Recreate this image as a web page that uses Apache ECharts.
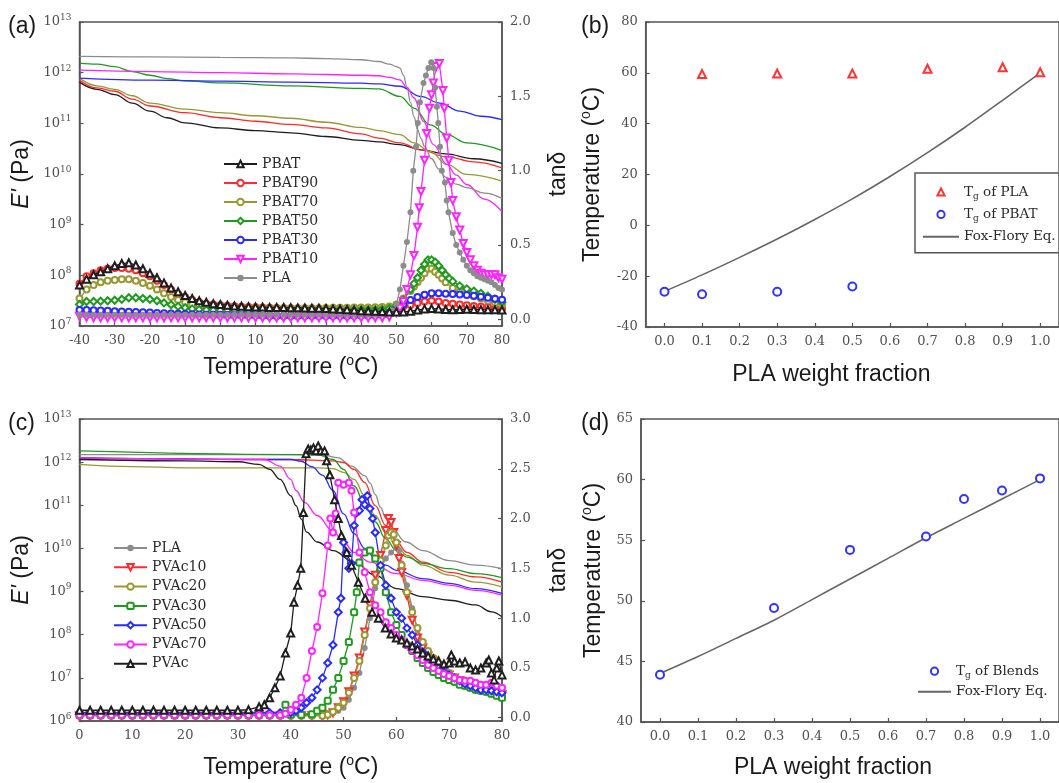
<!DOCTYPE html>
<html><head><meta charset="utf-8">
<script src="https://cdn.jsdelivr.net/npm/echarts@6/dist/echarts.min.js"></script>
<style>html,body{margin:0;padding:0;background:#fff}#c{width:1059px;height:783px}</style>
</head><body><div id="c"></div>
<script>
// ---------- Panel (a): PBAT/PLA blends ----------
const aNames = ['PBAT','PBAT90','PBAT70','PBAT50','PBAT30','PBAT10','PLA'];
// tan delta, [T (°C), tanδ]
const aTanPBAT = [[-40,.23],[-38,.27],[-36,.30],[-34,.32],[-32,.34],[-30,.36],[-28,.375],[-26,.38],[-24,.365],[-22,.34],[-20,.31],[-18,.28],[-16,.245],[-14,.21],[-12,.185],[-10,.16],[-8,.14],[-6,.125],[-4,.115],[-2,.105],[0,.1],[2,.095],[4,.09],[6,.088],[8,.085],[10,.083],[12,.082],[14,.08],[16,.08],[18,.079],[20,.078],[22,.077],[24,.076],[26,.075],[28,.074],[30,.073],[32,.07],[34,.068],[36,.065],[38,.062],[40,.058],[42,.056],[44,.054],[46,.052],[48,.05],[50,.05],[52,.05],[54,.055],[56,.062],[58,.07],[60,.072],[62,.07],[64,.066],[66,.064],[68,.066],[70,.068],[72,.066],[74,.065],[76,.064],[78,.064],[80,.063]];
const aTanPBAT90 = [[-40,.24],[-38,.29],[-36,.31],[-34,.33],[-32,.34],[-30,.345],[-28,.345],[-26,.34],[-24,.33],[-22,.31],[-20,.29],[-18,.26],[-16,.23],[-14,.2],[-12,.17],[-10,.15],[-8,.13],[-6,.115],[-4,.105],[-2,.1],[0,.095],[2,.092],[4,.088],[6,.085],[8,.083],[10,.081],[12,.08],[14,.078],[16,.076],[18,.075],[20,.074],[22,.073],[24,.072],[26,.072],[28,.072],[30,.072],[32,.072],[34,.072],[36,.072],[38,.073],[40,.074],[42,.074],[44,.075],[46,.076],[48,.078],[50,.082],[52,.088],[54,.097],[56,.11],[58,.12],[60,.125],[62,.12],[64,.11],[66,.105],[68,.1],[70,.095],[72,.09],[74,.087],[76,.083],[78,.078],[80,.072]];
const aTanPBAT70 = [[-40,.14],[-38,.2],[-36,.23],[-34,.25],[-32,.26],[-30,.265],[-28,.27],[-26,.27],[-24,.26],[-22,.245],[-20,.225],[-18,.2],[-16,.175],[-14,.15],[-12,.13],[-10,.115],[-8,.1],[-6,.09],[-4,.085],[-2,.082],[0,.08],[2,.078],[4,.077],[6,.076],[8,.075],[10,.075],[12,.074],[14,.073],[16,.072],[18,.072],[20,.072],[22,.073],[24,.074],[26,.075],[28,.075],[30,.076],[32,.077],[34,.078],[36,.078],[38,.079],[40,.08],[42,.08],[44,.081],[46,.082],[48,.086],[50,.1],[52,.14],[54,.19],[55,.22],[56,.25],[57,.28],[58,.31],[59,.34],[60,.34],[61,.32],[62,.3],[63,.275],[64,.25],[66,.21],[68,.185],[70,.17],[72,.155],[74,.14],[76,.125],[78,.112],[80,.1]];
const aTanPBAT50 = [[-40,.1],[-38,.12],[-36,.12],[-34,.122],[-32,.125],[-30,.128],[-28,.135],[-26,.145],[-24,.145],[-22,.14],[-20,.135],[-18,.125],[-16,.11],[-14,.098],[-12,.087],[-10,.078],[-8,.07],[-6,.066],[-4,.063],[-2,.061],[0,.06],[2,.059],[4,.058],[6,.058],[8,.058],[10,.058],[12,.058],[14,.058],[16,.059],[18,.06],[20,.06],[22,.061],[24,.061],[26,.062],[28,.062],[30,.062],[32,.062],[34,.062],[36,.063],[38,.063],[40,.064],[42,.064],[44,.065],[46,.067],[48,.073],[50,.09],[52,.13],[54,.2],[55,.24],[56,.28],[57,.33],[58,.37],[59,.4],[60,.4],[61,.385],[62,.36],[63,.33],[64,.3],[65,.275],[66,.255],[68,.225],[70,.205],[72,.19],[74,.175],[76,.155],[78,.135],[80,.115]];
const aTanPBAT30 = [[-40,.063],[-38,.062],[-36,.061],[-34,.06],[-32,.058],[-30,.055],[-28,.053],[-26,.051],[-24,.049],[-22,.047],[-20,.045],[-18,.043],[-16,.041],[-14,.039],[-12,.037],[-10,.036],[-8,.034],[-6,.032],[-4,.031],[-2,.03],[0,.03],[2,.029],[4,.028],[6,.027],[8,.026],[10,.025],[12,.024],[14,.023],[16,.023],[18,.022],[20,.022],[22,.022],[24,.022],[26,.022],[28,.022],[30,.022],[32,.022],[34,.023],[36,.023],[38,.024],[40,.025],[42,.026],[44,.028],[46,.032],[48,.042],[50,.068],[52,.1],[54,.13],[56,.15],[58,.165],[60,.175],[62,.175],[64,.172],[66,.17],[68,.167],[70,.163],[72,.158],[74,.152],[76,.145],[78,.138],[80,.132]];
const aTanPBAT10 = [[-40,.02],[-38,.013],[-36,.011],[-34,.01],[-32,.01],[-30,.01],[-28,.01],[-26,.01],[-24,.01],[-22,.01],[-20,.01],[-18,.01],[-16,.01],[-14,.01],[-12,.01],[-10,.01],[-8,.01],[-6,.01],[-4,.01],[-2,.01],[0,.01],[2,.01],[4,.01],[6,.01],[8,.01],[10,.01],[12,.01],[14,.01],[16,.01],[18,.01],[20,.01],[22,.01],[24,.01],[26,.01],[28,.01],[30,.01],[32,.01],[34,.01],[36,.01],[38,.01],[40,.01],[42,.01],[44,.01],[46,.01],[48,.015],[50,.045],[51,.075],[52,.12],[53,.2],[54,.3],[55,.43],[56,.62],[56.5,.75],[57,.86],[58,1.07],[58.6,1.25],[59.4,1.42],[60,1.51],[60.5,1.59],[61.3,1.70],[62.2,1.72],[63.2,1.54],[63.6,1.42],[64.3,1.22],[64.9,1.07],[65.5,.92],[66,.8],[67,.69],[68,.6],[69,.51],[70,.45],[71,.4],[72,.36],[73,.33],[74,.31],[75,.3],[76,.3],[77,.3],[78,.3],[79,.28],[80,.27]];
const aTanPLA = [[-40,.03],[-38,.03],[-36,.03],[-34,.03],[-32,.03],[-30,.03],[-28,.03],[-26,.03],[-24,.03],[-22,.03],[-20,.03],[-18,.03],[-16,.03],[-14,.03],[-12,.03],[-10,.03],[-8,.03],[-6,.03],[-4,.03],[-2,.03],[0,.03],[2,.03],[4,.03],[6,.03],[8,.03],[10,.03],[12,.03],[14,.03],[16,.03],[18,.03],[20,.03],[22,.03],[24,.03],[26,.03],[28,.03],[30,.03],[32,.03],[34,.03],[36,.03],[38,.03],[40,.03],[42,.03],[44,.03],[46,.032],[48,.04],[49,.06],[50,.1],[51,.2],[52,.36],[53,.52],[54,.72],[54.8,1.0],[55.6,1.16],[56.1,1.32],[56.7,1.46],[57.7,1.59],[58.4,1.64],[59.1,1.69],[59.9,1.73],[60.5,1.69],[61,1.56],[61.5,1.43],[61.9,1.32],[62.4,1.16],[62.9,1.0],[63.8,.92],[64.3,.8],[64.8,.72],[66,.58],[67,.5],[68,.45],[69,.4],[70,.36],[71,.33],[72,.31],[73,.29],[74,.28],[75,.27],[76,.26],[77,.25],[78,.23],[79,.21],[80,.2]];
// storage modulus E' (Pa), [T (°C), E']
const aEPBAT = [[-40,6.5e11],[-35,4.7e11],[-30,3.7e11],[-25,2.5e11],[-20,1.74e11],[-15,1.29e11],[-10,1.02e11],[0,8.1e10],[10,7.2e10],[20,6.5e10],[30,5.5e10],[40,4.6e10],[45,4.3e10],[51,3.8e10],[57,3.0e10],[64,2.5e10],[72,2.0e10],[80,1.62e10]];
const aEPBAT90 = [[-40,7.2e11],[-35,5.0e11],[-30,4.3e11],[-25,3.0e11],[-20,2.2e11],[-10,1.62e11],[0,1.29e11],[10,1.1e11],[20,9.5e10],[30,8.1e10],[40,6.2e10],[45,5.1e10],[51,4.1e10],[57,3.0e10],[64,2.2e10],[72,1.74e10],[80,1.32e10]];
const aEPBAT70 = [[-40,7.8e11],[-35,5.5e11],[-30,4.7e11],[-25,3.5e11],[-20,2.5e11],[-10,1.9e11],[0,1.62e11],[10,1.41e11],[20,1.26e11],[30,1.05e11],[40,8.3e10],[45,7.2e10],[51,6.0e10],[55,4.1e10],[59.6,2.8e10],[64.3,1.55e10],[70,9.8e9],[80,7.2e9]];
const aEPBAT50 = [[-40,1.55e12],[-35,1.48e12],[-30,1.32e12],[-25,1.05e12],[-20,8.9e11],[-15,7.6e11],[-10,6.9e11],[0,6.3e11],[20,5.5e11],[40,4.9e11],[45,4.8e11],[51,3.4e11],[55,2.0e11],[59.6,9.3e10],[64.3,6.0e10],[70,4.1e10],[80,2.9e10]];
const aEPBAT30 = [[-40,7.8e11],[-20,7.1e11],[0,6.8e11],[20,6.5e11],[40,6.2e11],[45,6.0e11],[51,5.4e11],[56.8,3.4e11],[62.4,2.5e11],[68,1.74e11],[74,1.38e11],[80,1.18e11]];
const aEPBAT10 = [[-40,1.12e12],[-20,1.05e12],[0,1.0e12],[20,9.5e11],[40,8.9e11],[45,8.7e11],[48,8.1e11],[51,7.2e11],[53,5.2e11],[55,3.2e11],[57.7,1.1e11],[60.5,3.8e10],[64.3,1.55e10],[67,9.5e9],[70,6.2e9],[75,3.2e9],[80,1.8e9]];
const aEPLA = [[-40,2.1e12],[-20,2.05e12],[0,2.0e12],[20,1.95e12],[30,1.9e12],[40,1.8e12],[45,1.66e12],[48,1.48e12],[50,1.32e12],[51,1.23e12],[52,8.9e11],[53,5.2e11],[54,2.6e11],[55,1.35e11],[56,7.6e10],[57,5.0e10],[58,3.5e10],[60,2.0e10],[62,1.26e10],[64,8.7e9],[67,6.3e9],[70,5.4e9],[75,4.2e9],[80,3.3e9]];

// ---------- Panel (c): PVAc/PLA blends ----------
const cNames = ['PLA','PVAc10','PVAc20','PVAc30','PVAc50','PVAc70','PVAc'];
const cTanPLA = [[0,.04],[2,.04],[4,.04],[6,.04],[8,.04],[10,.04],[12,.04],[14,.04],[16,.04],[18,.04],[20,.04],[22,.04],[24,.04],[26,.04],[28,.04],[30,.04],[32,.04],[34,.04],[36,.04],[38,.04],[40,.04],[42,.04],[44,.04],[46,.04],[48,.05],[49,.07],[50,.1],[51,.18],[52,.3],[53,.45],[54,.7],[55,1.0],[56,1.3],[57,1.5],[58,1.6],[59,1.66],[60,1.71],[60.5,1.68],[61,1.55],[62,1.33],[63,1.1],[64,.88],[65,.74],[66,.62],[67,.54],[68,.47],[69,.42],[70,.38],[71,.35],[72,.33],[73,.31],[74,.29],[75,.27],[76,.26],[77,.25],[78,.24],[79,.23],[80,.22]];
const cTanPVAc10 = [[0,.02],[2,.02],[4,.02],[6,.02],[8,.02],[10,.02],[12,.02],[14,.02],[16,.02],[18,.02],[20,.02],[22,.02],[24,.02],[26,.02],[28,.02],[30,.02],[32,.02],[34,.02],[36,.02],[38,.02],[40,.02],[42,.02],[44,.02],[46,.02],[47,.03],[48,.05],[49,.1],[50,.16],[51,.26],[52,.42],[53,.6],[54,.86],[55,1.13],[56,1.43],[57,1.63],[58,1.88],[58.5,2.0],[59,1.96],[59.5,1.86],[60,1.73],[60.5,1.6],[61,1.46],[62,1.23],[63,.98],[64,.8],[65,.7],[66,.62],[67,.57],[68,.52],[69,.47],[70,.43],[71,.4],[72,.37],[73,.34],[74,.32],[75,.3],[76,.28],[77,.27],[78,.25],[79,.24],[80,.23]];
const cTanPVAc20 = [[0,.02],[2,.02],[4,.02],[6,.02],[8,.02],[10,.02],[12,.02],[14,.02],[16,.02],[18,.02],[20,.02],[22,.02],[24,.02],[26,.02],[28,.02],[30,.02],[32,.02],[34,.02],[36,.02],[38,.02],[40,.02],[42,.02],[44,.02],[46,.02],[47,.03],[48,.06],[49,.1],[50,.15],[51,.25],[52,.4],[53,.57],[54,.83],[55,1.1],[56,1.36],[57,1.58],[58,1.73],[58.5,1.83],[59,1.86],[59.5,1.84],[60,1.76],[61,1.53],[62,1.26],[63,1.06],[64,.9],[65,.76],[66,.67],[67,.6],[68,.53],[69,.49],[70,.45],[71,.41],[72,.38],[73,.35],[74,.33],[75,.31],[76,.3],[77,.28],[78,.27],[79,.25],[80,.24]];
const cTanPVAc30 = [[0,.025],[2,.025],[4,.025],[6,.025],[8,.025],[10,.025],[12,.025],[14,.025],[16,.025],[18,.025],[20,.025],[22,.025],[24,.025],[26,.025],[28,.025],[30,.025],[32,.025],[34,.025],[36,.025],[38,.025],[39,.13],[40,.03],[42,.03],[44,.035],[45,.07],[46,.1],[47,.17],[48,.28],[49,.4],[50,.57],[51,.76],[52,1.06],[52.5,1.26],[53,1.56],[54,1.66],[55,1.68],[56,1.6],[57,1.5],[58,1.26],[59,1.06],[60,.93],[61,.83],[62,.73],[63,.67],[64,.6],[65,.55],[66,.5],[67,.46],[68,.43],[69,.4],[70,.38],[71,.36],[72,.33],[73,.32],[74,.3],[75,.28],[76,.27],[77,.26],[78,.24],[79,.22],[80,.2]];
const cTanPVAc50 = [[0,.05],[2,.05],[4,.05],[6,.05],[8,.05],[10,.05],[12,.05],[14,.05],[16,.05],[18,.05],[20,.05],[22,.05],[24,.05],[26,.05],[28,.05],[30,.05],[32,.05],[34,.05],[36,.05],[38,.05],[40,.05],[41,.07],[42,.1],[43,.15],[44,.2],[45,.28],[46,.4],[47,.55],[48,.73],[49,1.06],[49.5,1.2],[50,1.76],[50.5,1.66],[51,1.5],[51.5,1.55],[52,1.93],[52.5,2.06],[53,2.08],[53.5,2.19],[54,2.14],[54.5,2.23],[55,2.1],[55.5,2.0],[56,1.86],[57,1.53],[58,1.33],[59,1.2],[60,1.06],[61,1.0],[62,.9],[63,.83],[64,.73],[65,.66],[66,.6],[67,.55],[68,.5],[69,.46],[70,.43],[71,.4],[72,.37],[73,.34],[74,.32],[75,.3],[76,.28],[77,.28],[78,.27],[79,.26],[80,.25]];
const cTanPVAc70 = [[0,.025],[2,.025],[4,.025],[6,.025],[8,.025],[10,.025],[12,.025],[14,.025],[16,.025],[18,.025],[20,.025],[22,.025],[24,.025],[26,.025],[28,.025],[30,.025],[32,.025],[34,.025],[36,.025],[38,.025],[39,.04],[40,.08],[41,.13],[42,.2],[43,.4],[44,.67],[45,.91],[46,1.25],[47,1.73],[47.5,2.0],[48,1.86],[48.5,2.05],[49,2.36],[50,2.34],[51,2.36],[51.5,2.28],[52,2.06],[53,1.66],[54,1.46],[55,1.26],[56,1.13],[57,1.06],[58,.96],[59,.9],[60,.83],[61,.78],[62,.73],[63,.68],[64,.63],[65,.58],[66,.53],[67,.5],[68,.47],[69,.44],[70,.42],[71,.4],[72,.38],[73,.37],[74,.37],[75,.35],[76,.33],[77,.33],[78,.35],[79,.32],[80,.3]];
const cTanPVAc = [[0,.075],[2,.075],[4,.075],[6,.075],[8,.075],[10,.075],[12,.075],[14,.075],[16,.075],[18,.075],[20,.075],[22,.075],[24,.075],[26,.075],[28,.075],[30,.075],[32,.08],[34,.11],[35,.13],[36,.2],[37,.3],[38,.42],[39,.65],[40,.85],[40.6,1.16],[41.3,1.33],[41.9,1.5],[42.4,2.06],[42.9,2.65],[43.3,2.7],[43.8,2.69],[44.3,2.71],[44.8,2.68],[45.2,2.73],[45.7,2.68],[46.4,2.68],[46.8,2.58],[47.4,2.44],[48.3,2.19],[49,2.0],[49.6,1.83],[50.6,1.66],[51.5,1.53],[52.8,1.36],[54.1,1.2],[55.4,1.06],[56.6,1.0],[57.9,.9],[59,.84],[60,.8],[61,.78],[62,.75],[63,.72],[64,.69],[65,.65],[66,.62],[67,.59],[68,.57],[69,.54],[70,.55],[70.4,.63],[71,.57],[72,.55],[73,.56],[74,.5],[75,.48],[76,.5],[77,.55],[77.5,.58],[78,.45],[78.5,.38],[79,.5],[79.4,.57],[80,.43]];
const cEPLA = [[0,1.5e12],[40,1.5e12],[46,1.45e12],[49,1.26e12],[51.5,8.1e11],[54.1,4.8e11],[55,3.3e11],[56,1.78e11],[57,8.9e10],[58,5.0e10],[59.2,2.8e10],[61.8,1.41e10],[65,8.9e9],[70,5.2e9],[75,4.1e9],[80,3.4e9]];
const cEPVAc10 = [[0,1.26e12],[40,1.15e12],[48,1.07e12],[50,9.8e11],[52,6.8e11],[54,3.4e11],[56,9.8e10],[58,3.4e10],[60,1.41e10],[62,8.1e9],[65,4.8e9],[70,2.8e9],[75,2.2e9],[80,1.66e9]];
const cEPVAc20 = [[0,8.9e11],[10,7.9e11],[20,7.4e11],[45,7.4e11],[48,7.1e11],[50,5.8e11],[52,4.0e11],[54,1.66e11],[56,5.8e10],[58,2.4e10],[60,1.17e10],[62,6.9e9],[65,4.1e9],[70,2.4e9],[75,1.66e9],[80,1.29e9]];
const cEPVAc30 = [[0,1.82e12],[40,1.5e12],[45,1.5e12],[48,1.15e12],[50,6.8e11],[52,2.8e11],[54,1.07e11],[56,4.1e10],[58,1.66e10],[60,8.9e9],[62,6.3e9],[65,4.5e9],[70,3.4e9],[75,2.6e9],[80,2.1e9]];
const cEPVAc50 = [[0,1.26e12],[40,1.15e12],[42,1.05e12],[44,7.9e11],[46,5.0e11],[48,2.2e11],[50,6.3e10],[52,2.2e10],[54,1.0e10],[56,5.8e9],[58,4.1e9],[60,3.1e9],[65,2.0e9],[70,1.55e9],[75,1.17e9],[80,9.1e8]];
const cEPVAc70 = [[0,1.26e12],[35,1.15e12],[38,8.1e11],[40,4.0e11],[41,2.2e11],[42.6,1.17e11],[45,5.8e10],[48,2.5e10],[50,1.41e10],[52,8.1e9],[55,4.8e9],[60,2.6e9],[65,1.82e9],[70,1.41e9],[75,1.07e9],[80,8.3e8]];
const cEPVAc = [[0,1.15e12],[20,1.07e12],[30,1.02e12],[34,8.9e11],[36,6.8e11],[38,4.0e11],[40,1.66e11],[41,9.8e10],[42,4.8e10],[43,2.4e10],[45,1.41e10],[48,8.9e9],[52,4.8e9],[56,2.4e9],[60,1.17e9],[65,7.6e8],[70,6.3e8],[75,4.9e8],[78,3.4e8],[80,2.6e8]];

// ---------- Panel (b): Tg vs PLA fraction (PBAT blends) ----------
const bFracPLA = [0.1,0.3,0.5,0.7,0.9,1.0];
const bTgPLA = [59.5,59.7,59.7,61.6,62.2,60.2];
const bFracPBAT = [0.0,0.1,0.3,0.5];
const bTgPBAT = [-26.1,-27.1,-26.1,-24.1];
const bFoxFrac = [0,0.1,0.2,0.3,0.4,0.5,0.6,0.7,0.8,0.9,1.0];
const bFoxTg = [-26,-19.5,-12.6,-5.4,2.3,10.4,19.2,28.6,38.6,49.2,60];

// ---------- Panel (d): Tg vs PLA fraction (PVAc blends) ----------
const dFrac = [0.0,0.3,0.5,0.7,0.8,0.9,1.0];
const dTg = [43.9,49.4,54.2,55.3,58.4,59.1,60.1];
const dFoxFrac = [0,0.1,0.2,0.3,0.4,0.5,0.6,0.7,0.8,0.9,1.0];
const dFoxTg = [44.0,45.4,46.9,48.4,50.1,51.8,53.5,55.2,56.8,58.4,60.0];

// tick labels
const fracTicks = [0,0.1,0.2,0.3,0.4,0.5,0.6,0.7,0.8,0.9,1.0];
const tanTicksA = [0,0.5,1.0,1.5,2.0];
const tanTicksC = [0,0.5,1.0,1.5,2.0,2.5,3.0];

// ---------- styles ----------
const colors = {black:'#1e1e1e', red:'#ff2a2a', olive:'#999933', green:'#1f9a1f', blue:'#2a2aff', magenta:'#ff22ff', grey:'#8c8c8c'};
const aStyle = [
  {c:colors.black, s:'emptyTriangle', r:0, z:7},
  {c:colors.red, s:'emptyCircle', r:0, z:6},
  {c:colors.olive, s:'emptyCircle', r:0, z:6},
  {c:colors.green, s:'emptyDiamond', r:0, z:6},
  {c:colors.blue, s:'emptyCircle', r:0, z:6},
  {c:colors.magenta, s:'emptyTriangle', r:180, z:6},
  {c:colors.grey, s:'circle', r:0, z:6}
];
const cStyle = [
  {c:colors.grey, s:'circle', r:0},
  {c:colors.red, s:'emptyTriangle', r:180},
  {c:colors.olive, s:'emptyCircle', r:0},
  {c:colors.green, s:'emptyRoundRect', r:0},
  {c:colors.blue, s:'emptyDiamond', r:0},
  {c:colors.magenta, s:'emptyCircle', r:0},
  {c:colors.black, s:'emptyTriangle', r:0}
];
const aTan = [aTanPBAT,aTanPBAT90,aTanPBAT70,aTanPBAT50,aTanPBAT30,aTanPBAT10,aTanPLA];
const aE = [aEPBAT,aEPBAT90,aEPBAT70,aEPBAT50,aEPBAT30,aEPBAT10,aEPLA];
const cTan = [cTanPLA,cTanPVAc10,cTanPVAc20,cTanPVAc30,cTanPVAc50,cTanPVAc70,cTanPVAc];
const cE = [cEPLA,cEPVAc10,cEPVAc20,cEPVAc30,cEPVAc50,cEPVAc70,cEPVAc];

const SERIF = 'DejaVu Serif';
const SANS = 'Liberation Sans';
const AX = '#555';
const lbl = {fontFamily:SERIF, fontSize:13, color:'#505050', margin:8};
const tick = {show:true, inside:true, length:4, lineStyle:{color:AX, width:1.2}};
const nameStyle = {fontFamily:SANS, fontSize:23, color:'#1a1a1a', lineHeight:28,
  rich:{sup:{fontFamily:SANS, fontSize:14, color:'#1a1a1a', verticalAlign:'top', lineHeight:14},
        it:{fontFamily:SANS, fontSize:23, fontStyle:'italic', color:'#1a1a1a', lineHeight:28}}};
const logLbl = Object.assign({}, lbl, {lineHeight:18,
  formatter: v => '10{s|' + Math.round(Math.log10(v)) + '}',
  rich:{s:{fontFamily:SERIF, fontSize:9, color:'#505050', verticalAlign:'top', lineHeight:9}}});
const axLine = {show:true, onZero:false, lineStyle:{color:AX, width:1.5}};
const noSplit = {show:false};

const series = [];
function addE(data, name, color, xi, yi) {
  series.push({type:'line', name:name, data:data, xAxisIndex:xi, yAxisIndex:yi, symbol:'none',
    smooth:0.4, smoothMonotone:'x', lineStyle:{color:color, width:1.3}, z:2, silent:true});
}
function addTan(data, name, st, xi, yi) {
  series.push({type:'line', name:name, data:data, xAxisIndex:xi, yAxisIndex:yi,
    symbol:st.s, symbolSize:st.s.indexOf('Triangle')>=0 || st.s.indexOf('Diamond')>=0 ? 7 : 6,
    symbolRotate:st.r, showSymbol:true,
    lineStyle:{color:st.c, width:1.3}, itemStyle:{color:st.c, borderWidth:1.1}, z:st.z || 5, silent:true});
}
aNames.forEach((n,i) => addE(aE[i], 'E\u2032 ' + n, aStyle[i].c, 0, 0));
aNames.forEach((n,i) => addTan(aTan[i], n, aStyle[i], 0, 1));
cNames.forEach((n,i) => addE(cE[i], 'E\u2032 c ' + n, cStyle[i].c, 2, 3));
cNames.forEach((n,i) => addTan(cTan[i], n, cStyle[i], 2, 4));

// marker-only series drawn as line series without a visible line (keeps legend symbols undistorted)
function addPoints(name, xs, ys, symbol, color, xi, yi) {
  series.push({type:'line', name:name, xAxisIndex:xi, yAxisIndex:yi,
    data:xs.map((x,i)=>[x,ys[i]]), symbol:symbol, symbolSize:8, showSymbol:true,
    lineStyle:{width:0, opacity:0}, itemStyle:{color:color, borderWidth:1.3}, z:5, silent:true});
}
addPoints('Tg of PLA', bFracPLA, bTgPLA, 'emptyTriangle', '#ff3333', 1, 2);
addPoints('Tg of PBAT', bFracPBAT, bTgPBAT, 'emptyCircle', '#3333ff', 1, 2);
series.push({type:'line', name:'Fox-Flory Eq.', xAxisIndex:1, yAxisIndex:2,
  data:bFoxFrac.map((x,i)=>[x,bFoxTg[i]]), symbol:'none', smooth:0.3,
  lineStyle:{color:'#666', width:1.6}, itemStyle:{color:'#666'}, z:3, silent:true});
addPoints('Tg of Blends', dFrac, dTg, 'emptyCircle', '#3333ff', 3, 5);
series.push({type:'line', name:'Fox-Flory Eq. ', xAxisIndex:3, yAxisIndex:5,
  data:dFoxFrac.map((x,i)=>[x,dFoxTg[i]]), symbol:'none', smooth:0.3,
  lineStyle:{color:'#666', width:1.6}, itemStyle:{color:'#666'}, z:3, silent:true});

const gridBase = {show:true, borderColor:AX, borderWidth:1.5, backgroundColor:'transparent'};
const legText = {fontFamily:SERIF, fontSize:14, color:'#2a2a2a', lineHeight:14};
const legText2 = {fontFamily:SERIF, fontSize:13.5, color:'#2a2a2a', lineHeight:18,
  rich:{sub:{fontFamily:SERIF, fontSize:9, color:'#2a2a2a', verticalAlign:'bottom', lineHeight:9}}};
const subFmt = n => n.trim().replace('Tg', 'T{sub|g}');

const option = {
  animation:false,
  backgroundColor:'#fff',
  title:[
    {text:'(a)', left:8, top:15},
    {text:'(b)', left:581, top:15},
    {text:'(c)', left:8, top:412},
    {text:'(d)', left:581, top:412}
  ].map(t => Object.assign(t, {padding:0, textStyle:{fontFamily:SANS, fontSize:23, fontWeight:'normal', color:'#1a1a1a'}})),
  grid:[
    Object.assign({left:79.5, top:22, width:422.5, height:304}, gridBase),
    Object.assign({left:645.7, top:22, width:442, height:305}, gridBase),
    Object.assign({left:79.5, top:419, width:422.5, height:305}, gridBase),
    Object.assign({left:641, top:419, width:442.5, height:305}, gridBase)
  ],
  xAxis:[
    {gridIndex:0, type:'value', min:-40, max:80, interval:10, axisLine:axLine, axisTick:tick, axisLabel:lbl, splitLine:noSplit,
     name:'Temperature ({sup|o}C)', nameLocation:'middle', nameGap:28, nameTextStyle:nameStyle},
    {gridIndex:1, type:'value', min:-0.05, max:1.05, axisLine:axLine,
     axisTick:Object.assign({customValues:fracTicks}, tick),
     axisLabel:Object.assign({customValues:fracTicks, formatter:v=>v.toFixed(1)}, lbl), splitLine:noSplit,
     name:'PLA weight fraction', nameLocation:'middle', nameGap:34, nameTextStyle:Object.assign({padding:[0,42,0,0]}, nameStyle)},
    {gridIndex:2, type:'value', min:0, max:80, interval:10, axisLine:axLine, axisTick:tick, axisLabel:lbl, splitLine:noSplit,
     name:'Temperature ({sup|o}C)', nameLocation:'middle', nameGap:33, nameTextStyle:nameStyle},
    {gridIndex:3, type:'value', min:-0.05, max:1.05, axisLine:axLine,
     axisTick:Object.assign({customValues:fracTicks}, tick),
     axisLabel:Object.assign({customValues:fracTicks, formatter:v=>v.toFixed(1)}, lbl), splitLine:noSplit,
     name:'PLA weight fraction', nameLocation:'middle', nameGap:32, nameTextStyle:Object.assign({padding:[0,34,0,0]}, nameStyle)}
  ],
  yAxis:[
    {gridIndex:0, type:'log', logBase:10, min:1e7, max:1e13, splitNumber:6, axisLine:axLine, axisTick:tick, axisLabel:logLbl, splitLine:noSplit,
     name:'{it|E\'} (Pa)', nameLocation:'middle', nameGap:44, nameTextStyle:nameStyle},
    {gridIndex:0, type:'value', position:'right', min:-0.045, max:2.0, axisLine:axLine,
     axisTick:Object.assign({customValues:tanTicksA}, tick),
     axisLabel:Object.assign({customValues:tanTicksA, formatter:v=>v.toFixed(1)}, lbl), splitLine:noSplit,
     name:'tan\u03b4', nameLocation:'middle', nameGap:43, nameRotate:90, nameTextStyle:nameStyle},
    {gridIndex:1, type:'value', min:-40, max:80, interval:20, axisLine:axLine, axisTick:tick, axisLabel:lbl, splitLine:noSplit,
     name:'Temperature ({sup|o}C)', nameLocation:'middle', nameGap:39, nameTextStyle:nameStyle},
    {gridIndex:2, type:'log', logBase:10, min:1e6, max:1e13, splitNumber:7, axisLine:axLine, axisTick:tick, axisLabel:logLbl, splitLine:noSplit,
     name:'{it|E\'} (Pa)', nameLocation:'middle', nameGap:44, nameTextStyle:nameStyle},
    {gridIndex:2, type:'value', position:'right', min:-0.033, max:3.0, axisLine:axLine,
     axisTick:Object.assign({customValues:tanTicksC}, tick),
     axisLabel:Object.assign({customValues:tanTicksC, formatter:v=>v.toFixed(1)}, lbl), splitLine:noSplit,
     name:'tan\u03b4', nameLocation:'middle', nameGap:43, nameRotate:90, nameTextStyle:nameStyle},
    {gridIndex:3, type:'value', min:40, max:65, interval:5, axisLine:axLine, axisTick:tick, axisLabel:lbl, splitLine:noSplit,
     name:'Temperature ({sup|o}C)', nameLocation:'middle', nameGap:33, nameTextStyle:nameStyle}
  ],
  legend:[
    {data:aNames, orient:'vertical', left:223, top:157, padding:0, itemWidth:33, itemHeight:8, itemGap:5,
     lineStyle:{width:2}, textStyle:legText, selectedMode:false},
    {data:cNames, orient:'vertical', left:113, top:541, padding:0, itemWidth:33, itemHeight:8, itemGap:5.3,
     lineStyle:{width:2}, textStyle:legText, selectedMode:false},
    {data:['Tg of PLA','Tg of PBAT',{name:'Fox-Flory Eq.', itemStyle:{opacity:0}}], orient:'vertical', left:915, top:173,
     padding:[10,60,7,7], itemWidth:36, itemHeight:9, itemGap:4.4, borderColor:AX, borderWidth:1.5,
     formatter:subFmt, textStyle:legText2, selectedMode:false},
    {data:['Tg of Blends',{name:'Fox-Flory Eq. ', itemStyle:{opacity:0}}], orient:'vertical', left:917, top:662.2,
     padding:0, itemWidth:33, itemHeight:9, itemGap:2.6,
     formatter:subFmt, textStyle:legText2, selectedMode:false}
  ],
  series:series
};
const chart = echarts.init(document.getElementById('c'), null, {renderer:'canvas'});
chart.setOption(option);
</script></body></html>
